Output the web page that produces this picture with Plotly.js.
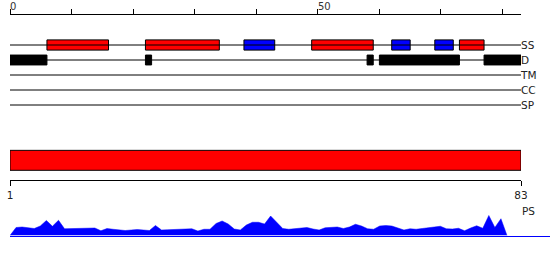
<!DOCTYPE html>
<html>
<head>
<meta charset="utf-8">
<script src="https://cdn.plot.ly/plotly-3.0.1.min.js"></script>
<style>html,body{margin:0;padding:0;background:#fff;}#chart{width:550px;height:260px;}</style>
</head>
<body>
<div id="chart"></div>
<script>
// ---- data ----
const seqLength = 83;
const topTickVals = [0, 10, 20, 30, 40, 50, 60, 70, 80];
const topLabelVals = [0, 50];
const topLabels = ['0', '50'];
const tracks = ['SS', 'D', 'TM', 'CC', 'SP'];
const helixStart = [6, 22, 49, 73];
const helixEnd = [16, 34, 59, 77];
const strandStart = [38, 62, 69];
const strandEnd = [43, 65, 72];
const disorderStart = [0, 22, 58, 60, 77];
const disorderEnd = [6, 23, 59, 73, 83];
const domainStart = [1];
const domainEnd = [83];
const bottomTickVals = [1, 83];
const bottomTickText = ['1', '83'];
const psLabel = 'PS';
const psValues = [0, 0.32, 0.34, 0.32, 0.28, 0.38, 0.60, 0.37, 0.61, 0.27,
  0.28, 0.28, 0.29, 0.30, 0.30, 0.19, 0.28, 0.25, 0.23, 0.20,
  0.22, 0.24, 0.22, 0.20, 0.40, 0.22, 0.23, 0.24, 0.24, 0.25,
  0.27, 0.18, 0.25, 0.25, 0.48, 0.58, 0.46, 0.26, 0.22, 0.42,
  0.53, 0.53, 0.46, 0.78, 0.52, 0.28, 0.25, 0.28, 0.32, 0.32,
  0.26, 0.22, 0.31, 0.32, 0.34, 0.28, 0.34, 0.45, 0.38, 0.27,
  0.25, 0.38, 0.40, 0.38, 0.29, 0.22, 0.27, 0.25, 0.28, 0.31,
  0.34, 0.37, 0.27, 0.26, 0.29, 0.19, 0.30, 0.39, 0.29, 0.80,
  0.32, 0.67, 0];
const psResidues = psValues.map((v, i) => i + 1);

// ---- layout helpers ----
const W = 550, H = 260, ML = 10;
const px = p => 1 - p / H;                 // pixel row -> paper y
const xEnd = (521 - ML) / (W - ML);        // right end of tracks

function segBar(starts, ends, track, color, lineColor, width) {
  return {
    type: 'bar', orientation: 'h', xaxis: 'x', yaxis: 'y',
    y: starts.map(() => track), base: starts, x: starts.map((s, i) => ends[i] - s),
    width: width, marker: {color: color, line: {color: lineColor, width: 1}},
    cliponaxis: false, hoverinfo: 'skip', showlegend: false
  };
}

const traces = [];
// track lines
tracks.forEach(t => traces.push({
  type: 'scatter', mode: 'lines', xaxis: 'x', yaxis: 'y',
  x: [0, seqLength], y: [t, t], line: {color: '#000', width: 1},
  cliponaxis: false, hoverinfo: 'skip', showlegend: false
}));
traces.push(segBar(helixStart, helixEnd, 'SS', '#ff0000', '#000', 0.68));
traces.push(segBar(strandStart, strandEnd, 'SS', '#0000ff', '#000', 0.68));
traces.push(segBar(disorderStart, disorderEnd, 'D', '#000', '#000', 0.66));
// domain bar
traces.push({
  type: 'bar', orientation: 'h', xaxis: 'x2', yaxis: 'y2',
  y: [0], base: domainStart, x: domainStart.map((s, i) => domainEnd[i] - s),
  width: 1, marker: {color: '#ff0000', line: {color: '#000', width: 1}},
  cliponaxis: false, hoverinfo: 'skip', showlegend: false
});
// PS area
traces.push({
  type: 'scatter', mode: 'lines', xaxis: 'x3', yaxis: 'y3',
  x: psResidues, y: psValues, fill: 'tozeroy', fillcolor: '#0000ff',
  line: {color: '#0000ff', width: 0.5}, hoverinfo: 'skip', showlegend: false
});

const font = {family: 'DejaVu Sans', size: 10.5, color: '#222'};
const topFont = {family: 'DejaVu Sans', size: 10, color: '#333'};
const psScale = (507 - ML) / 82; // px per residue in PS track

const layout = {
  width: W, height: H,
  margin: {l: ML, r: 0, t: 0, b: 0, pad: 0},
  paper_bgcolor: '#fff', plot_bgcolor: 'rgba(0,0,0,0)',
  barmode: 'overlay', showlegend: false, font: font,
  xaxis: {domain: [0, xEnd], range: [0, seqLength], anchor: 'y', side: 'top',
    showline: true, linecolor: '#000', linewidth: 1, ticks: 'outside', ticklen: 5,
    tickcolor: '#000', tickwidth: 1, tickvals: topTickVals, showticklabels: false,
    showgrid: false, zeroline: false, fixedrange: true},
  yaxis: {domain: [px(112.5), px(15)], type: 'category', categoryarray: tracks,
    range: [4.5, -2], anchor: 'x', side: 'right', showline: false, ticks: '',
    showgrid: false, zeroline: false, tickfont: font, ticklabelstandoff: -1, fixedrange: true},
  xaxis2: {domain: [0, xEnd], range: [domainStart[0], domainEnd[0]], anchor: 'y2',
    showline: true, linecolor: '#000', linewidth: 1, ticks: 'outside', ticklen: 5,
    tickcolor: '#000', tickvals: bottomTickVals, ticktext: bottomTickText,
    tickfont: font, showgrid: false, zeroline: false, fixedrange: true},
  yaxis2: {domain: [px(180.3), px(149.3)], range: [-1, 0.55], anchor: 'x2',
    visible: false, fixedrange: true},
  xaxis3: {domain: [0, 1], range: [1, 1 + (W - ML) / psScale], anchor: 'y3',
    showline: true, linecolor: '#0000ff', linewidth: 1, ticks: '', showticklabels: false,
    showgrid: false, zeroline: false, fixedrange: true},
  yaxis3: {domain: [px(235.5), px(210.5)], range: [0, 1], anchor: 'x3',
    visible: false, fixedrange: true},
  annotations: topLabelVals.map((v, i) => ({
    xref: 'x', yref: 'paper', x: v, y: 1, xanchor: 'left', yanchor: 'top',
    text: topLabels[i], showarrow: false, font: topFont, borderpad: 0, xshift: -1
  })).concat([{
    xref: 'x2', yref: 'paper', x: domainEnd[0], y: px(211), xanchor: 'left', yanchor: 'middle',
    text: psLabel, showarrow: false, font: font, borderpad: 0
  }])
};

Plotly.newPlot('chart', traces, layout, {staticPlot: true, displayModeBar: false});
</script>
</body>
</html>
